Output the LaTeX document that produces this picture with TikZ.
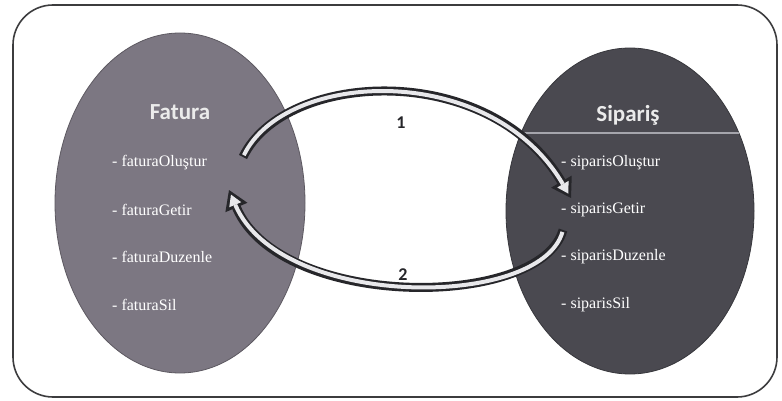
\documentclass[tikz,border=0pt]{standalone}
\usepackage{fontspec}
\setmainfont{Liberation Serif}
\newfontfamily\titlefont{Carlito}
\usetikzlibrary{shapes.geometric,arrows.meta,calc}
\definecolor{leftfill}{RGB}{124,119,130}
\definecolor{rightfill}{RGB}{74,73,80}
\definecolor{framecol}{RGB}{60,60,62}
\definecolor{arrowline}{RGB}{38,38,42}
\definecolor{arrowfill}{RGB}{232,232,235}
\definecolor{dividercol}{RGB}{165,165,172}
\begin{document}
\begin{tikzpicture}[x=1pt,y=-1pt,
  blob/.style={ellipse, inner sep=0pt, draw=#1!75!black, fill=#1, line width=0.8pt},
  item/.style={anchor=west, inner sep=0pt, text=white, font=\fontsize{16}{18}\selectfont},
  classtitle/.style={inner sep=0pt, text=white!92!black, font=\titlefont\bfseries\fontsize{23}{26}\selectfont},
  numlabel/.style={inner sep=0pt, text=arrowline, font=\titlefont\bfseries\fontsize{18}{20}\selectfont},
  outerarrow/.style={draw=arrowline, line width=9pt, -{Triangle[length=19pt,width=24pt,line width=0pt]}},
  innerarrow/.style={draw=arrowfill, line width=4pt, shorten <=2pt, shorten >=5pt, -{Triangle[length=11pt,width=13pt,line width=0pt]}}
]
\useasboundingbox (0,0) rectangle (782,401);
\fill[white] (0,0) rectangle (782,401);
\draw[framecol, line width=1.6pt, rounded corners=40pt] (13,5) rectangle (777,397);

% ellipses
\node[blob=leftfill, minimum width=250pt, minimum height=340pt] (fat) at (180,203) {};
\node[blob=rightfill, minimum width=248pt, minimum height=326pt] (sip) at (630,211) {};

\begin{scope}
  \clip (630,211) ellipse [x radius=124pt, y radius=163pt];
  \draw[dividercol, line width=2pt] (500,133) -- (760,133);
\end{scope}

% titles
\node[classtitle] (fatt) at (180,112) {Fatura};
\node[classtitle] (sipt) at (628,115) {Sipariş};

% items
\node[item] (f1) at (112,163) {- faturaOluştur};
\node[item] (f2) at (112,210) {- faturaGetir};
\node[item] (f3) at (112,257) {- faturaDuzenle};
\node[item] (f4) at (112,305) {- faturaSil};
\node[item] (s1) at (561,163) {- siparisOluştur};
\node[item] (s2) at (561,210) {- siparisGetir};
\node[item] (s3) at (561,257) {- siparisDuzenle};
\node[item] (s4) at (561,305) {- siparisSil};

% arrow end points
\coordinate (a1s) at ($(f1.west)+(131,-6)$);
\coordinate (a1e) at ($(s2.west)+(10,-12)$);
\coordinate (a2s) at ($(s2.west)+(2,20)$);
\coordinate (a2e) at ($(f2.west)+(117,-20)$);

% arrow 1
\draw[outerarrow] (a1s) .. controls +(42,-87) and +(-81,-138) .. (a1e);
\draw[innerarrow] (a1s) .. controls +(42,-87) and +(-81,-138) .. (a1e);
% arrow 2
\draw[outerarrow] (a2s) .. controls +(-23,80) and +(51,120) .. (a2e);
\draw[innerarrow] (a2s) .. controls +(-23,80) and +(51,120) .. (a2e);

\node[numlabel] (l1) at (401,123) {1};
\node[numlabel] (l2) at (403,275) {2};
\end{tikzpicture}
\end{document}
